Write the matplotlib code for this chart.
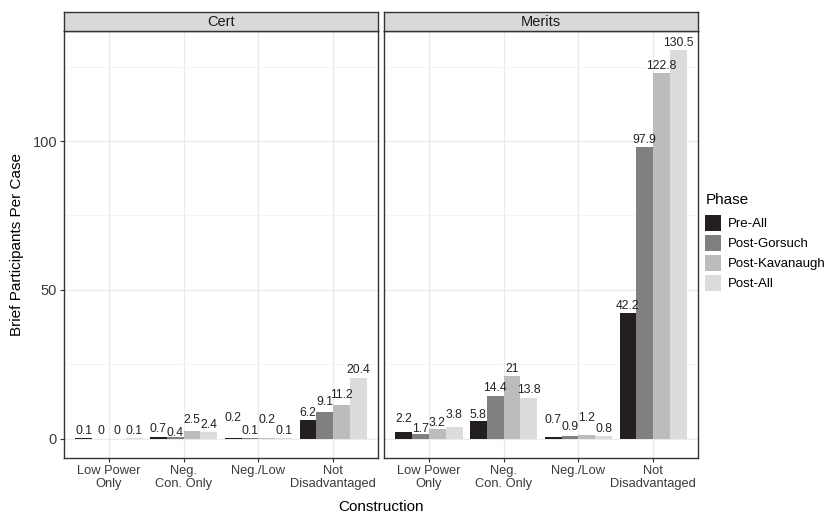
import numpy as np
import matplotlib.pyplot as plt
from matplotlib.patches import Patch

plt.rcParams['font.family'] = ['Liberation Sans', 'DejaVu Sans']

categories = ["Low Power\nOnly", "Neg.\nCon. Only", "Neg./Low", "Not\nDisadvantaged"]
phases = ["Pre-All", "Post-Gorsuch", "Post-Kavanaugh", "Post-All"]
colors = ["#231f20", "#808083", "#bbbcbe", "#dcdcdd"]
panels = ["Cert", "Merits"]

cert_vals = {
    "Pre-All": [0.1, 0.7, 0.2, 6.2],
    "Post-Gorsuch": [0, 0.4, 0.1, 9.1],
    "Post-Kavanaugh": [0, 2.5, 0.2, 11.2],
    "Post-All": [0.1, 2.4, 0.1, 20.4],
}
merits_vals = {
    "Pre-All": [2.2, 5.8, 0.7, 42.2],
    "Post-Gorsuch": [1.7, 14.4, 0.9, 97.9],
    "Post-Kavanaugh": [3.2, 21, 1.2, 122.8],
    "Post-All": [3.8, 13.8, 0.8, 130.5],
}
all_vals = [cert_vals, merits_vals]

# extra vertical shift (pixels) of value labels, rows = category, cols = phase
cert_nudge = [[0, 0, 0, 0], [0, -3, 3.5, -1], [13, 0, 11, 0], [0, 2, 3, 0]]
merits_nudge = [[5.5, -3, -1.5, 5], [-1, 0, 0, 0], [9, 1, 10, 0], [0, 0, 0, 0]]
all_nudges = [cert_nudge, merits_nudge]

fig = plt.figure(figsize=(8.31, 5.16), dpi=100)
W, H = 831, 516
lefts = [64, 384]
pw = 314
top, bottom = 31, 458
ymin, ymax = -6.5, 137.0

x = np.arange(1, 5)
bw = 0.9 / 4

for i, (name, vals) in enumerate(zip(panels, all_vals)):
    ax = fig.add_axes([lefts[i] / W, 1 - bottom / H, pw / W, (bottom - top) / H])
    ax.set_xlim(0.4, 4.6)
    ax.set_ylim(ymin, ymax)
    ax.set_yticks([0, 50, 100])
    ax.set_yticks([25, 75, 125], minor=True)
    ax.set_xticks(x)
    ax.set_xticklabels(categories, fontsize=9.3, color="#3a3a3a", linespacing=1.1)
    ax.grid(True, which="major", color="#ebebeb", lw=1.0)
    ax.grid(True, which="minor", axis="y", color="#f3f3f3", lw=0.6)
    ax.set_axisbelow(True)
    ax.tick_params(which="minor", length=0)
    ax.tick_params(which="major", length=3, color="#333333", pad=2)
    for s in ax.spines.values():
        s.set_color("#333333")
        s.set_linewidth(1.0)
    if i == 0:
        ax.set_yticklabels(["0", "50", "100"], fontsize=10.5, color="#3a3a3a")
        ax.set_ylabel("Brief Participants Per Case", fontsize=11, labelpad=6)
    else:
        ax.set_yticklabels([])
        ax.tick_params(axis="y", length=0)
    for j, ph in enumerate(phases):
        xpos = x - 0.45 + bw * (j + 0.5)
        ax.bar(xpos, vals[ph], width=bw, color=colors[j], lw=0)
        for k, (xp, v) in enumerate(zip(xpos, vals[ph])):
            dy = (4.5 + all_nudges[i][k][j]) * 0.72
            ax.annotate(f"{v:g}", (xp, v), xytext=(0, dy), textcoords="offset points",
                        ha="center", va="baseline", fontsize=8.7, color="#222222")
    # facet strip
    sax = fig.add_axes([lefts[i] / W, 1 - top / H, pw / W, 19 / H])
    sax.set_xticks([])
    sax.set_yticks([])
    sax.set_facecolor("#d9d9d9")
    for s in sax.spines.values():
        s.set_color("#333333")
        s.set_linewidth(1.0)
    sax.text(0.5, 0.48, name, ha="center", va="center", fontsize=10.5, color="#1a1a1a", transform=sax.transAxes)

fig.text((64 + 698) / 2 / W, 1 - 507 / H, "Construction", ha="center", va="center", fontsize=11)

fig.text(706 / W, 1 - 200 / H, "Phase", ha="left", va="center", fontsize=11)
handles = [Patch(facecolor=c, edgecolor="none") for c in colors]
leg = fig.legend(handles, phases, loc="upper left",
                 bbox_to_anchor=(705 / W, 1 - 215 / H), frameon=False, borderpad=0,
                 borderaxespad=0, fontsize=9.5, handlelength=1.25, handleheight=1.45,
                 handletextpad=0.5, labelspacing=0.33)

fig.savefig("out.png", dpi=100)
